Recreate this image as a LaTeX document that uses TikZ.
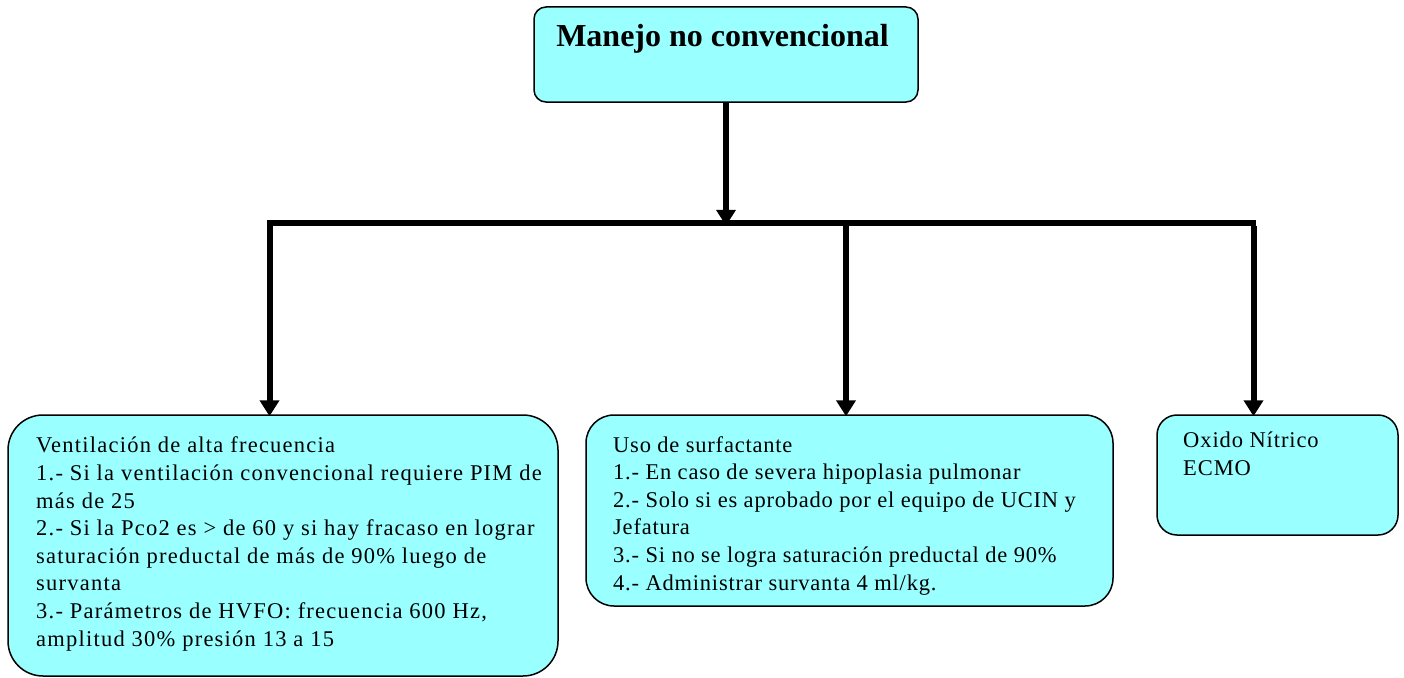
\documentclass[tikz,border=0pt]{standalone}
\usepackage{fontspec}
\setmainfont{Liberation Serif}
\usetikzlibrary{arrows.meta}
\definecolor{boxfill}{RGB}{153,255,255}
\tikzset{
  box/.style={draw=black, line width=1.5pt, fill=boxfill, inner sep=0pt},
  % anchored at the baseline of the last line
  bodytext/.style={anchor=base west, align=left, inner sep=0pt,
    font=\fontsize{22.5}{27.6}\selectfont\addfontfeature{LetterSpace=#1}},
  bodytext/.default=4,
  feed/.style={line width=6pt, -{Triangle[width=19pt,length=16pt]}},
  bus/.style={line width=5.5pt, line cap=rect},
}
\begin{document}
\begin{tikzpicture}[x=1pt,y=-1pt]
\useasboundingbox (0,0) rectangle (1404,677);

% boxes
\node[box, rounded corners=12pt, minimum width=384pt, minimum height=95pt] (top) at (726,54.5) {};
\node[box, rounded corners=35pt, minimum width=550pt, minimum height=261pt] (hfv) at (283,545.5) {};
\node[box, rounded corners=28pt, minimum width=527pt, minimum height=191pt] (surf) at (849.5,510.5) {};
\node[box, rounded corners=20pt, minimum width=241pt, minimum height=120pt] (ino) at (1277.5,475) {};

% texts
\node[anchor=base, inner sep=0pt, font=\fontsize{32}{38}\selectfont\bfseries] (title) at (722.5,46) {Manejo no convencional};
\node[bodytext=5.5] (hfvtext) at (36,646) {Ventilación de alta frecuencia\\
1.- Si la ventilación convencional requiere PIM de\\
más de 25\\
2.- Si la Pco2 es > de 60 y si hay fracaso en lograr\\
saturación preductal de más de 90\% luego de\\
survanta\\
3.- Parámetros de HVFO: frecuencia 600 Hz,\\
amplitud 30\% presión 13 a 15};
\node[bodytext=3.5] (surftext) at (613,590) {Uso de surfactante\\
1.- En caso de severa hipoplasia pulmonar\\
2.- Solo si es aprobado por el equipo de UCIN y\\
Jefatura\\
3.- Si no se logra saturación preductal de 90\%\\
4.- Administrar survanta 4 ml/kg.};
\node[bodytext] (inotext) at (1183,475) {Oxido Nítrico\\
ECMO};

% distribution bus
\coordinate (busL) at (269.5,223);
\coordinate (busR) at (1253.5,223);
\coordinate (busM) at (846,223);
\draw[bus] (busL) -- (busR);

% connectors
\draw[feed] (top.south) -- ([yshift=-2.75pt]top.south |- busL);
\draw[feed] ([yshift=-2.75pt]busL) -- ([yshift=-2pt]busL |- hfv.north);
\draw[feed] ([yshift=-2.75pt]busM) -- ([yshift=-2pt]busM |- surf.north);
\draw[feed] ([yshift=-2.75pt]busR) -- ([yshift=-2pt]busR |- ino.north);
\end{tikzpicture}
\end{document}
